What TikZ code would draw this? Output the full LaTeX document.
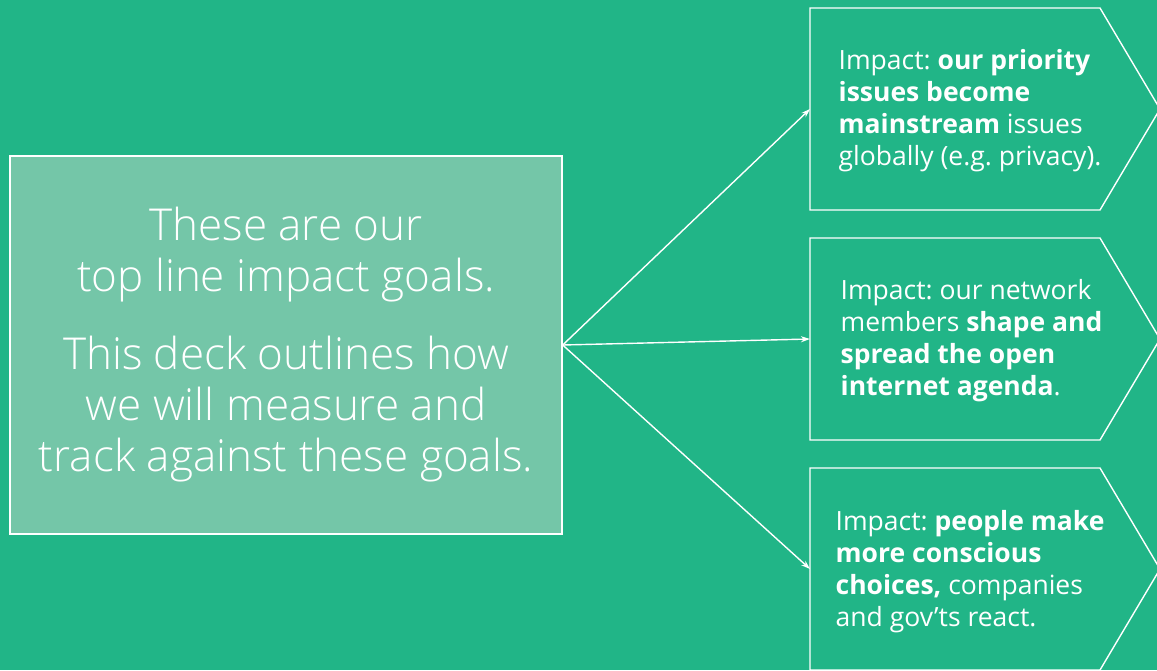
\documentclass[tikz,border=0pt]{standalone}
\usepackage{fontspec}
\setmainfont{Open Sans}
\newfontfamily\lightfont{Open Sans Light}
\usetikzlibrary{arrows.meta}
\definecolor{bggreen}{HTML}{21B587}
\definecolor{boxgreen}{HTML}{74C6A8}
\frenchspacing
\begin{document}
\begin{tikzpicture}[x=1pt,y=-1pt,>={Stealth[length=9pt,width=6pt]},
	line width=1.4pt,white,
	mainbox/.style={draw,fill=boxgreen,minimum width=552pt,minimum height=378pt,
		align=center,font=\lightfont\fontsize{44}{51}\selectfont},
	goaltext/.style={anchor=north west,inner sep=0pt,align=left,
		font=\fontsize{26.5}{32}\selectfont}]
	\fill[bggreen] (0,0) rectangle (1157,670);
	\useasboundingbox (0,0) rectangle (1157,670);
	\node[mainbox] (goals) at (286,345) {These are our\\top line impact goals.\\[27pt]
		This deck outlines how\\we will measure and\\track against these goals.};
	% chevron outlines, one per impact goal
	\foreach \y/\n in {8/1,238/2,468/3}{
		\draw (810,\y) -- (1100,\y) -- (1160,\y+101) -- (1100,\y+202) -- (810,\y+202) -- cycle;
		\coordinate (in\n) at (810,\y+101);
	}
	\node[goaltext] (g1) at (838,49) {Impact: \textbf{our priority}\\\textbf{issues become}\\
		\textbf{mainstream} issues\\globally (e.g. privacy).};
	\node[goaltext] (g2) at (840,279) {Impact: our network\\members \textbf{shape and}\\
		\textbf{spread the open}\\\textbf{internet agenda}.};
	\node[goaltext] (g3) at (835,510) {Impact: \textbf{people make}\\\textbf{more conscious}\\
		\textbf{choices,} companies\\and gov’ts react.};
	% arrows from the goals box to each impact
	\draw[->] (goals.east) -- (in1);
	\draw[->] (goals.east) -- (in2);
	\draw[->] (goals.east) -- (in3);
\end{tikzpicture}
\end{document}
